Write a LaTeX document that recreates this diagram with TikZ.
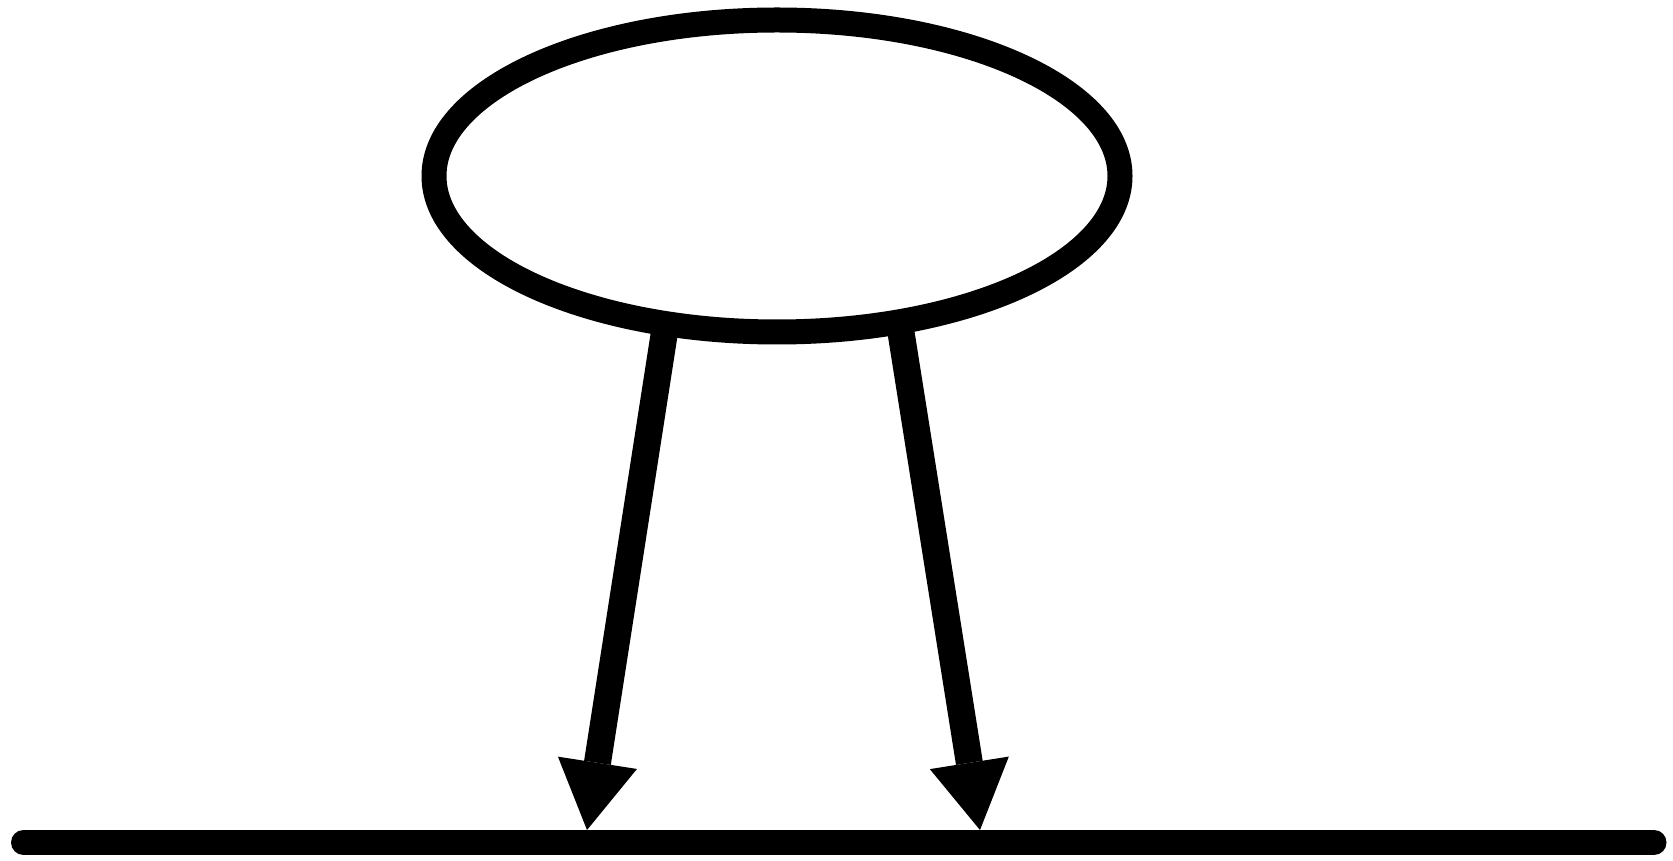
\documentclass[tikz,border=0pt]{standalone}
\usetikzlibrary{shapes.geometric,arrows.meta}
\begin{document}
\begin{tikzpicture}[x=1pt,y=1pt,
  thick line/.style={line width=25pt},
  oval/.style={draw,thick line,ellipse,minimum width=686pt,minimum height=312pt,inner sep=0pt,outer sep=0pt},
  bigarrow/.style={line width=27pt,-{Triangle[length=68pt,width=80pt,line width=0pt]}},
  baseline line/.style={thick line,line cap=round}]
\useasboundingbox (0,0) rectangle (1673,860);
\node[oval] (e) at (777,684) {};
\coordinate (L1) at (23.5,17.5);
\coordinate (L2) at (1654,17.5);
\coordinate (t1) at (587,30);
\coordinate (t2) at (980,30);
\draw[baseline line] (L1) -- (L2);
\draw[bigarrow] (e.233.4) -- (t1);
\draw[bigarrow] (e.310.06) -- (t2);
\end{tikzpicture}
\end{document}
